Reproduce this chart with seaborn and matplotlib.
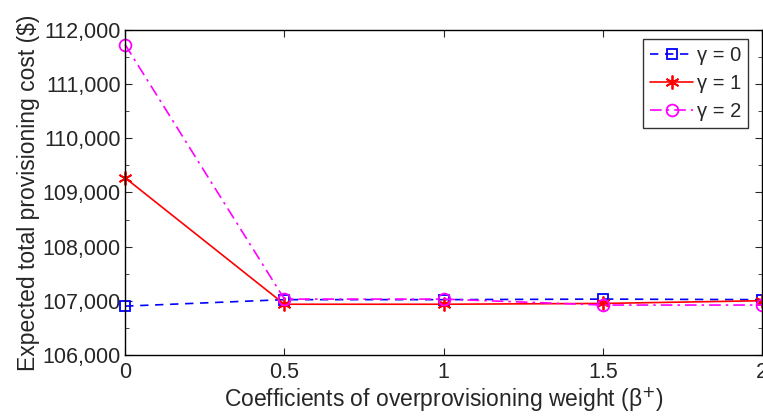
import pandas as pd
import seaborn as sns
import matplotlib.pyplot as plt
from matplotlib.ticker import MultipleLocator, FuncFormatter

# Data
beta = [0, 0.5, 1, 1.5, 2]
cost_g0 = [106900, 107020, 107020, 107030, 107020]
cost_g1 = [109270, 106935, 106935, 106950, 107000]
cost_g2 = [111730, 107030, 107030, 106920, 106920]
labels = ['\u03b3 = 0', '\u03b3 = 1', '\u03b3 = 2']

sns.set_style('ticks')
plt.rcParams['font.family'] = ['Liberation Sans', 'DejaVu Sans']

fig = plt.figure(figsize=(7.63, 4.17), dpi=100)
ax = fig.add_axes([0.164, 0.149, 0.835, 0.779])

styles = [
    dict(color='blue', linestyle=(0, (5, 4)), marker='s', markersize=6.5),
    dict(color='red', linestyle='-', marker=(6, 2, 0), markersize=10),
    dict(color='magenta', linestyle=(0, (7, 3, 1.5, 3)), marker='o', markersize=8.5),
]
for vals, lab, st in zip([cost_g0, cost_g1, cost_g2], labels, styles):
    df = pd.DataFrame({'beta': beta, 'cost': vals})
    sns.lineplot(data=df, x='beta', y='cost', ax=ax, label=lab,
                 color=st['color'], linestyle=st['linestyle'], marker=st['marker'],
                 markersize=st['markersize'], markerfacecolor='none',
                 markeredgecolor=st['color'], markeredgewidth=1.3, linewidth=1.2,
                 clip_on=False)

ax.set_xlim(0, 2)
ax.set_ylim(106000, 112000)
ax.xaxis.set_major_locator(MultipleLocator(0.5))
ax.xaxis.set_major_formatter(FuncFormatter(lambda v, p: f'{v:g}'))
ax.yaxis.set_major_locator(MultipleLocator(1000))
ax.yaxis.set_minor_locator(MultipleLocator(500))
ax.yaxis.set_major_formatter(FuncFormatter(lambda v, p: f'{int(v):,}'))
ax.tick_params(which='both', direction='in', top=True, right=True, labelsize=15.5)
ax.tick_params(axis='x', pad=5)
ax.tick_params(axis='y', pad=3)
ax.tick_params(which='major', length=5)
ax.tick_params(which='minor', length=3)
for s in ax.spines.values():
    s.set_linewidth(1.0)
    s.set_color('black')

ax.set_xlabel('Coefficients of overprovisioning weight (\u03b2$^{+}$)', fontsize=16.5, labelpad=2)
ax.set_ylabel('Expected total provisioning cost ($)', fontsize=16.5, labelpad=2)

leg = ax.legend(loc='upper right', bbox_to_anchor=(748 / 763, 1 - 39 / 417),
                bbox_transform=fig.transFigure, borderaxespad=0, fontsize=14.5,
                frameon=True, fancybox=False, edgecolor='black', handlelength=2.1,
                handletextpad=0.2, labelspacing=0.45, borderpad=0.35)
leg.get_frame().set_linewidth(1.0)

fig.savefig('out.png', dpi=100)
